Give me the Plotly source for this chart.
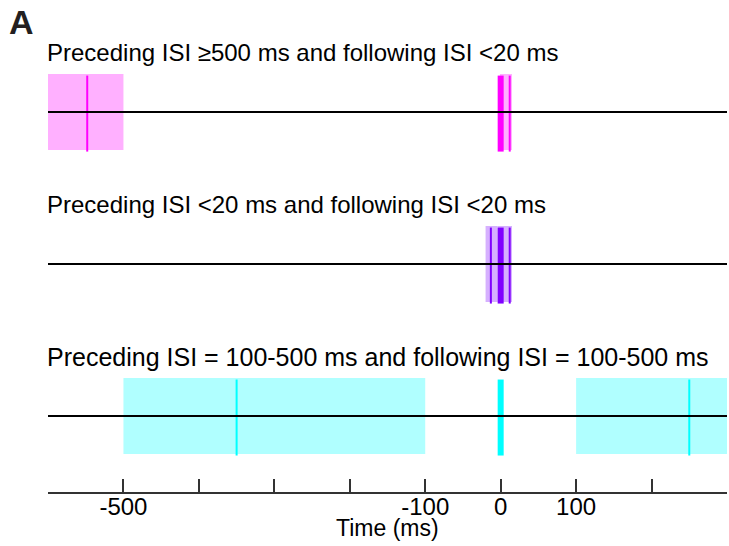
import plotly.graph_objects as go

# Time axis (ms)
x_range = [-600, 300]
tick_vals = [-600, -500, -400, -300, -200, -100, 0, 100, 200, 300]
tick_text = ["", "-500", "", "", "", "-100", "0", "100", "", ""]

# One row per ISI condition, top to bottom
panel_titles = [
    "Preceding ISI \u2265500 ms and following ISI <20 ms",
    "Preceding ISI <20 ms and following ISI <20 ms",
    "Preceding ISI = 100-500 ms and following ISI = 100-500 ms",
]
title_sizes = [24, 24, 25]
panel_rows = [8, 4, 0]
spike_colors = ["#FF00FF", "#8000FF", "#00FFFF"]
window_colors = ["#FFB0FF", "#D6B0FF", "#B0FFFF"]

# Shaded ISI windows (start, end) in ms
windows = [
    [(-600, -500), (-1, 15)],
    [(-20, -4), (-4, 15)],
    [(-500, -100), (100, 300)],
]
# Spike times in ms; the spike at 0 is the reference spike
spikes = [
    [-548, 0, 12],
    [-13, 0, 12],
    [-350, 0, 250],
]

FONT = "Liberation Sans, Arial, Helvetica, sans-serif"
shapes = []
annotations = []

for row, title, size, wins, times, sc, wc in zip(panel_rows, panel_titles,
                                                  title_sizes, windows, spikes,
                                                  spike_colors, window_colors):
    for a, b in wins:
        shapes.append(dict(type="rect", xref="x", yref="y", x0=a, x1=b,
                           y0=row - 1, y1=row + 1, fillcolor=wc,
                           line=dict(width=0), layer="below"))
    for t in times:
        shapes.append(dict(type="line", xref="x", yref="y", x0=t, x1=t,
                           y0=row - 1.04, y1=row + 0.96,
                           line=dict(color=sc, width=6 if t == 0 else 2)))
    shapes.append(dict(type="line", xref="x", yref="y", x0=x_range[0],
                       x1=x_range[1], y0=row, y1=row,
                       line=dict(color="black", width=2)))
    annotations.append(dict(text=title, xref="x", yref="y", x=x_range[0],
                            y=row + 1.56, xanchor="left", yanchor="middle",
                            xshift=-3, showarrow=False,
                            font=dict(size=size, color="black", family=FONT)))

annotations.append(dict(text="<b>A</b>", xref="paper", yref="paper",
                        x=-0.061, y=1.0, xanchor="left", yanchor="top",
                        yshift=-1, showarrow=False,
                        font=dict(size=34, color="#231F20", family=FONT)))
annotations.append(dict(text="Time (ms)", xref="paper", yref="paper",
                        x=0.5, y=-0.074, xanchor="center", yanchor="middle",
                        showarrow=False,
                        font=dict(size=23, color="black", family=FONT)))

fig = go.Figure()
fig.add_trace(go.Scatter(x=[x_range[0]], y=[0], mode="markers",
                         marker=dict(opacity=0), hoverinfo="skip",
                         showlegend=False))
fig.update_layout(
    width=729, height=546,
    margin=dict(l=48, r=2, t=0, b=54),
    paper_bgcolor="white", plot_bgcolor="white",
    shapes=shapes, annotations=annotations, showlegend=False,
    xaxis=dict(range=x_range, showline=True, linecolor="#333333", linewidth=2,
               ticks="inside", ticklen=13, tickwidth=2, tickcolor="#333333",
               tickvals=tick_vals, ticktext=tick_text, showgrid=False,
               zeroline=False, automargin=False, ticklabelstandoff=-8,
               tickfont=dict(size=24, color="black", family=FONT)),
    yaxis=dict(range=[-2, 10.95], visible=False, showgrid=False,
               zeroline=False),
)
fig.write_html("out.html")
